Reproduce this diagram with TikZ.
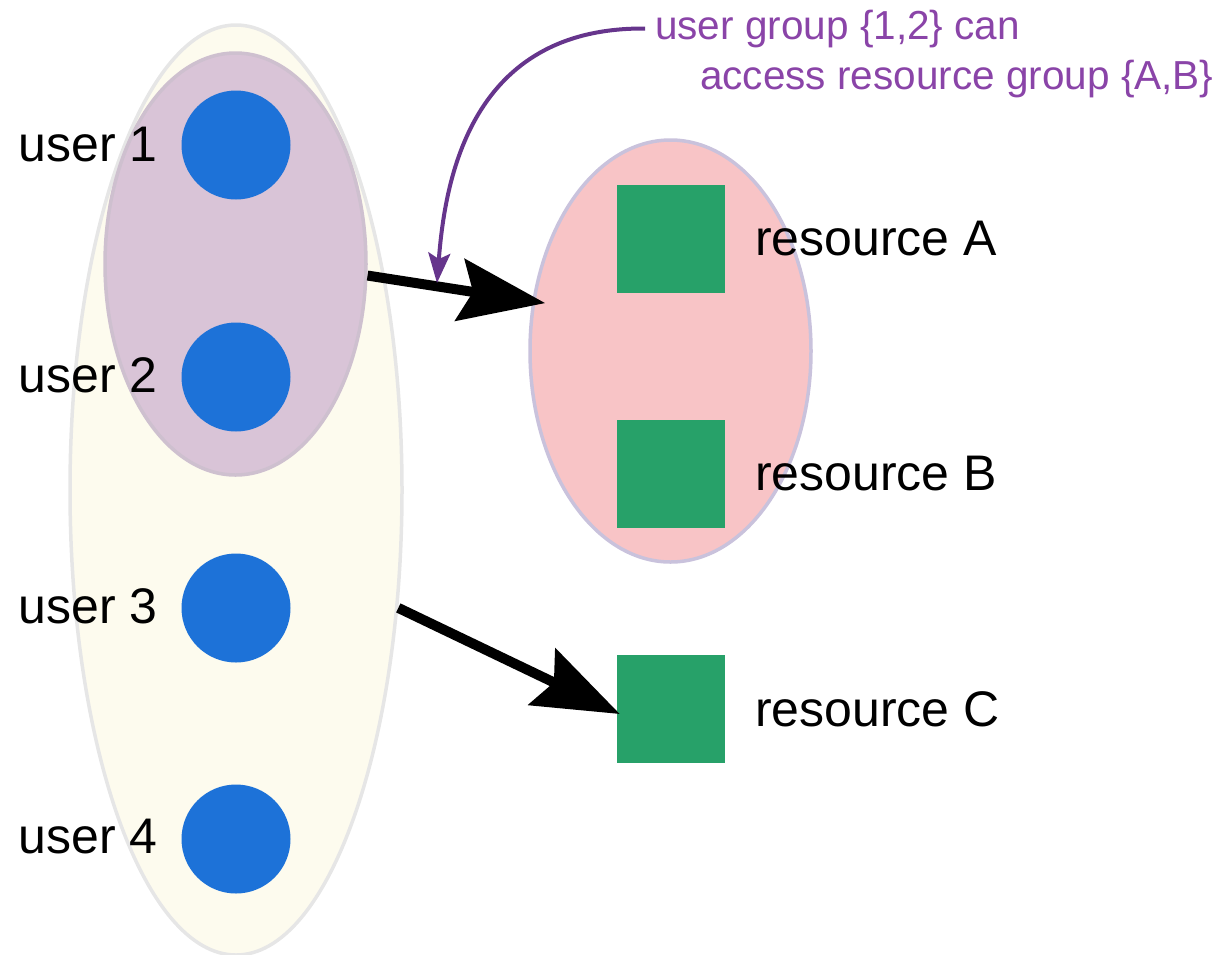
\documentclass[tikz,border=0pt]{standalone}
\usepackage{fontspec}
\setmainfont{Liberation Sans}
\usetikzlibrary{shapes.geometric,arrows.meta}

\definecolor{allfill}{HTML}{FDFBEE}
\definecolor{allline}{HTML}{E6E6E6}
\definecolor{grpfill}{HTML}{D9C4D7}
\definecolor{grpline}{HTML}{CEC0CF}
\definecolor{resfill}{HTML}{F8C4C6}
\definecolor{resline}{HTML}{C9C2DC}
\definecolor{userblue}{HTML}{1D72D8}
\definecolor{resgreen}{HTML}{27A169}
\definecolor{notecurve}{HTML}{66358C}
\definecolor{notetext}{HTML}{8A44A8}

\begin{document}
\begin{tikzpicture}[x=1pt,y=-1pt,
  grp/.style={ellipse, inner sep=0pt, line width=3.5pt},
  user/.style={circle, fill=userblue, inner sep=0pt, minimum size=109pt},
  res/.style={rectangle, fill=resgreen, inner sep=0pt, minimum size=108pt},
  lbl/.style={inner sep=0pt, font=\fontsize{50}{60}\selectfont},
  note/.style={inner sep=0pt, inner xsep=10pt, text=notetext, font=\fontsize{40.5}{48}\selectfont},
  access/.style={line width=10pt, -{Stealth[length=86pt,width=62pt,inset=13pt]}},
  notearrow/.style={line width=4pt, draw=notecurve, -{Stealth[length=30pt,width=22pt,inset=6pt]}}
]
\useasboundingbox (0,0) rectangle (1225,954);

% groups
\node[grp, fill=allfill, draw=allline, minimum width=332pt, minimum height=930pt] (all) at (236,490) {};
\node[grp, fill=grpfill, draw=grpline, minimum width=261pt, minimum height=422pt] (ug12) at (235.5,264) {};
\node[grp, fill=resfill, draw=resline, minimum width=281pt, minimum height=422pt] (resAB) at (670.5,351) {};

% users
\node[user] (u1) at (236,145) {};
\node[user] (u2) at (236,377) {};
\node[user] (u3) at (236,608) {};
\node[user] (u4) at (236,839) {};
\node[lbl, anchor=east] (l1) at (158,145) {user 1};
\node[lbl, anchor=east] (l2) at (158,375) {user 2};
\node[lbl, anchor=east] (l3) at (158,606) {user 3};
\node[lbl, anchor=east] (l4) at (158,837) {user 4};

% resources
\node[res] (rA) at (671,239) {};
\node[res] (rB) at (671,474) {};
\node[res] (rC) at (671,709) {};
\node[lbl, anchor=west] (lA) at (755,239) {resource A};
\node[lbl, anchor=west] (lB) at (755,474) {resource B};
\node[lbl, anchor=west] (lC) at (755,709) {resource C};

% access arrows
\draw[access] (ug12.-5) -- ([shift={(12.5pt,-5pt)}]resAB.159);
\draw[access] (all.-36.4) -- ([shift={(3pt,-5pt)}]rC.west);

% annotation
\node[note, anchor=base west] (note1) at (645,39) {user group \{1,2\} can};
\node[note, anchor=base west] (note2) at (690,89) {access resource group \{A,B\}};
\coordinate (noteTip) at (437,283);
\draw[notearrow] (note1.west) .. controls (470,27) and (445,180) .. (noteTip);
\end{tikzpicture}
\end{document}
